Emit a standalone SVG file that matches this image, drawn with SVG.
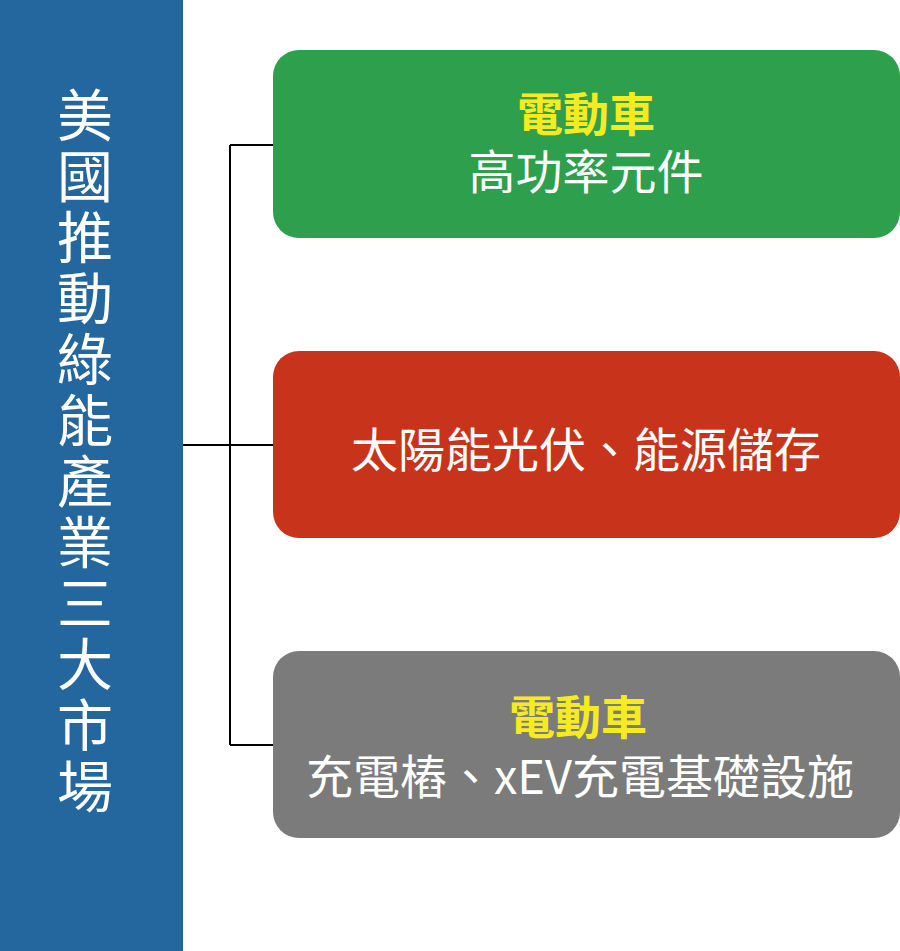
<svg xmlns="http://www.w3.org/2000/svg" width="900" height="951" viewBox="0 0 900 951">
<style>
text{font-family:"Noto Sans CJK TC","Noto Sans",sans-serif;text-anchor:middle}
.w{fill:#fff;font-size:47px}
.y{fill:#F5EB1E;font-size:46px;font-weight:bold}
.v{fill:#fff;font-size:56px}
</style>
<rect width="900" height="951" fill="#fff"/>
<g id="title">
<rect x="0" y="0" width="183" height="951" fill="#23679E"/>
<text class="v" x="85" y="136">美</text>
<text class="v" x="85" y="197">國</text>
<text class="v" x="85" y="258">推</text>
<text class="v" x="85" y="319">動</text>
<text class="v" x="85" y="380">綠</text>
<text class="v" x="85" y="441">能</text>
<text class="v" x="85" y="502">產</text>
<text class="v" x="85" y="563">業</text>
<text class="v" x="85" y="624">三</text>
<text class="v" x="85" y="685">大</text>
<text class="v" x="85" y="746">市</text>
<text class="v" x="85" y="807">場</text>
</g>
<g id="connectors" stroke="#000" stroke-width="2" fill="none">
<path d="M183 445H273M230 145V745M230 145H273M230 745H273"/>
</g>
<g id="n1">
<rect x="273" y="50" width="627" height="188" rx="26" fill="#2E9F4C"/>
<text class="y" x="586" y="131">電動車</text>
<text class="w" x="586" y="189">高功率元件</text>
</g>
<g id="n2">
<rect x="273" y="351" width="627" height="187" rx="26" fill="#C8341B"/>
<text class="w" x="586" y="467">太陽能光伏、能源儲存</text>
</g>
<g id="n3">
<rect x="273" y="651" width="627" height="187" rx="26" fill="#7A7B7A"/>
<text class="y" x="578" y="734">電動車</text>
<text class="w" x="580" y="794">充電樁、xEV充電基礎設施</text>
</g>
</svg>
